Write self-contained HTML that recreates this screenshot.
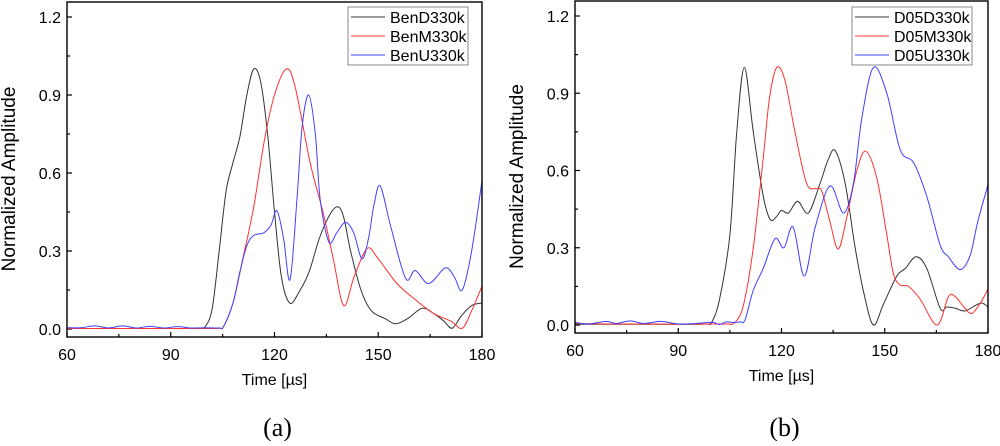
<!DOCTYPE html>
<html><head><meta charset="utf-8"><style>
body{margin:0;background:#fff;}
svg text{font-family:"Liberation Sans",sans-serif;}
</style></head><body>
<svg id="svg" width="1000" height="441" xmlns="http://www.w3.org/2000/svg"></svg>
<script>
// ---- data ----
const yTicks = [0.0, 0.3, 0.6, 0.9, 1.2];
const xTicks = [60, 90, 120, 150, 180];
const namesA = ["BenD330k","BenM330k","BenU330k"];
const namesB = ["D05D330k","D05M330k","D05U330k"];
const colors = ["#333333","#ff3030","#4040ff"];
const aDt = [60,70,80,90,98,100,102,104,106,108,110,112,114,116,118,120,122,124.4,127,130,133,136,138.3,140,142,145,148,152,155,158.5,162.7,166,169,171.4,174,177,180];
const aDv = [0.002,0.002,0.002,0.002,0.003,0.01,0.08,0.3,0.53,0.64,0.74,0.9,1.0,0.95,0.75,0.45,0.2,0.1,0.14,0.22,0.35,0.44,0.47,0.43,0.3,0.15,0.07,0.04,0.02,0.04,0.08,0.06,0.03,0.003,0.05,0.09,0.1];
const aMt = [60,70,80,90,100,104,105.3,108,111,114,117,120,123.4,126,130.3,134,137,140,143,146.8,150,155.4,161,166,171,174.3,177,180];
const aMv = [0.002,0.002,0.002,0.002,0.002,0.003,0.01,0.1,0.28,0.47,0.72,0.9,1.0,0.93,0.64,0.45,0.27,0.09,0.2,0.31,0.27,0.175,0.11,0.06,0.03,0.003,0.07,0.165];
const aUt = [60,64,68,72,76,80,84,88,92,96,100,104,105.3,108,110,112,114,116.9,119,120.7,122.6,124.5,126.5,128,129.9,131.8,133.2,135.7,138,140.5,142.9,145.3,147.2,148.8,150.6,153.5,157.9,160.7,164.6,169.4,172,174.3,177,180];
const aUv = [0.005,0.005,0.012,0.004,0.012,0.004,0.01,0.004,0.009,0.004,0.005,0.004,0.01,0.1,0.22,0.32,0.36,0.37,0.4,0.455,0.35,0.19,0.5,0.78,0.9,0.75,0.5,0.335,0.37,0.41,0.37,0.27,0.35,0.48,0.55,0.4,0.195,0.225,0.175,0.235,0.2,0.15,0.3,0.57];
const bDt = [60,70,80,90,98,99.7,102,105,107,109.2,111.8,114.7,116.7,118.5,120,122,124.7,127.8,131.2,133.5,135.6,138.5,141.4,144,146.7,149.6,153.5,156,159.1,162.2,166.1,168,170.5,173.4,177.8,180];
const bDv = [0.003,0.003,0.003,0.003,0.004,0.01,0.1,0.35,0.75,1.0,0.75,0.5,0.41,0.42,0.445,0.435,0.48,0.435,0.55,0.64,0.677,0.55,0.3,0.12,0.0,0.08,0.19,0.22,0.265,0.22,0.065,0.07,0.065,0.055,0.085,0.07];
const bMt = [60,70,80,90,100,104,106.5,109,111.8,114.7,116.5,118.6,121,123.9,127.3,130.2,131.7,134.1,136.5,139,141.9,144.5,147.7,150.6,152.5,154.5,156.9,160.3,165.2,168.5,170.5,173,175.3,178,180];
const bMv = [0.006,0.004,0.004,0.003,0.004,0.004,0.01,0.08,0.3,0.65,0.88,1.0,0.95,0.75,0.55,0.53,0.52,0.4,0.295,0.42,0.6,0.675,0.57,0.35,0.2,0.155,0.15,0.1,0.0,0.11,0.11,0.07,0.045,0.09,0.14];
const bUt = [60,64,69,72,76,80,85,90,95,100,102,104,106,108,109.4,111.8,114.7,118.1,120.7,123.4,126.6,129.8,134.1,138,140.9,143.3,146.7,150.6,154.5,158.4,162.2,166.1,168.5,171.9,174.8,177,180];
const bUv = [0.01,0.004,0.014,0.006,0.016,0.006,0.014,0.004,0.006,0.01,0.002,0.012,0.01,0.012,0.02,0.135,0.22,0.335,0.3,0.38,0.19,0.38,0.54,0.435,0.55,0.8,1.0,0.9,0.68,0.63,0.5,0.31,0.265,0.215,0.27,0.4,0.545];

const svg = document.getElementById('svg');
const NS = 'http://www.w3.org/2000/svg';
function mk(tag, attrs, parent, text){
  const e = document.createElementNS(NS, tag);
  for (const k in attrs) e.setAttribute(k, attrs[k]);
  if (text !== undefined) e.textContent = text;
  (parent||svg).appendChild(e);
  return e;
}
function smooth(pts){
  let d = 'M' + pts[0][0].toFixed(2) + ',' + pts[0][1].toFixed(2);
  for (let i=0;i<pts.length-1;i++){
    const p0=pts[Math.max(i-1,0)], p1=pts[i], p2=pts[i+1], p3=pts[Math.min(i+2,pts.length-1)];
    const c1=[p1[0]+(p2[0]-p0[0])/6, p1[1]+(p2[1]-p0[1])/6];
    const c2=[p2[0]-(p3[0]-p1[0])/6, p2[1]-(p3[1]-p1[1])/6];
    d += 'C'+c1[0].toFixed(2)+','+c1[1].toFixed(2)+' '+c2[0].toFixed(2)+','+c2[1].toFixed(2)+' '+p2[0].toFixed(2)+','+p2[1].toFixed(2);
  }
  return d;
}
function panel(P, names, series, caption, id){
  const g = mk('g', {});
  
  
  const X = t => P.x0 + (t-60)/120*(P.x1-P.x0);
  const Y = v => P.y0 - v/1.2*(P.y0-P.y12);
  xTicks.forEach((t,i)=>{
    const tk = mk('line',{x1:X(t),x2:X(t),y1:P.bottom,y2:P.bottom-5,stroke:'#000','stroke-width':1.2},g);
    
    
    const lb = mk('text',{x:X(t),y:P.bottom+23,'font-size':16,'text-anchor':'middle'},g,String(t));
    
    
    if (i<xTicks.length-1){
      const m = mk('line',{x1:X(t+15),x2:X(t+15),y1:P.bottom,y2:P.bottom-3,stroke:'#000','stroke-width':1.2},g);
      
      
    }
  });
  yTicks.forEach((v,i)=>{
    const tk = mk('line',{x1:P.x0,x2:P.x0+5,y1:Y(v),y2:Y(v),stroke:'#000','stroke-width':1.2},g);
    
    
    const lb = mk('text',{x:P.x0-6,y:Y(v)+6,'font-size':16,'text-anchor':'end'},g,v.toFixed(1));
    
    
    if (i<yTicks.length-1){
      const m = mk('line',{x1:P.x0,x2:P.x0+3,y1:Y(v+0.15),y2:Y(v+0.15),stroke:'#000','stroke-width':1.2},g);
      
      
    }
  });
  const cp = mk('clipPath',{id:'clip'+id},g);
  mk('rect',{x:P.x0,y:P.top,width:P.x1-P.x0,height:P.bottom-P.top},cp);
  series.forEach((s,i)=>{
    const pts = s[0].map((t,j)=>[X(t),Y(s[1][j])]);
    const p = mk('path',{d:smooth(pts),fill:'none',stroke:colors[i],'stroke-width':1,'clip-path':'url(#clip'+id+')'},g);
    
    
  });
  const fr = mk('rect',{x:P.x0,y:P.top,width:P.x1-P.x0,height:P.bottom-P.top,fill:'none',stroke:'#000','stroke-width':1.4},g);
  
  
  const xt = mk('text',{x:(P.x0+P.x1)/2,y:P.bottom+48,'font-size':16,'text-anchor':'middle'},g,'Time [µs]');
  
  
  const yt = mk('text',{x:0,y:0,'font-size':19,'text-anchor':'middle',transform:'translate('+(P.x0-52)+','+((P.y0+P.y12)/2+6)+') rotate(-90)'},g,'Normalized Amplitude');
  
  
  const lg = mk('g',{},g);
  
  
  mk('rect',{x:P.lx,y:7,width:120,height:58,fill:'#fff',stroke:'#888','stroke-width':1},lg);
  names.forEach((n,i)=>{
    const y = 17 + i*19;
    const e = mk('g',{},lg);
    
    
    mk('line',{x1:P.lx+3,x2:P.lx+37,y1:y,y2:y,stroke:colors[i],'stroke-width':1},e);
    mk('text',{x:P.lx+42,y:y+6,'font-size':16},e,n);
  });
  const c = mk('text',{x:(P.x0+P.x1)/2+3,y:436,'font-size':26,'text-anchor':'middle',style:'font-family:"Liberation Serif",serif'},g,caption);
  
  
}
panel({x0:67,x1:482,top:2,bottom:337,y0:329,y12:17,lx:348}, namesA, [[aDt,aDv],[aMt,aMv],[aUt,aUv]], '(a)', 'a');
panel({x0:575,x1:988,top:1,bottom:333,y0:325,y12:16,lx:852}, namesB, [[bDt,bDv],[bMt,bMv],[bUt,bUv]], '(b)', 'b');
</script>
</body></html>
